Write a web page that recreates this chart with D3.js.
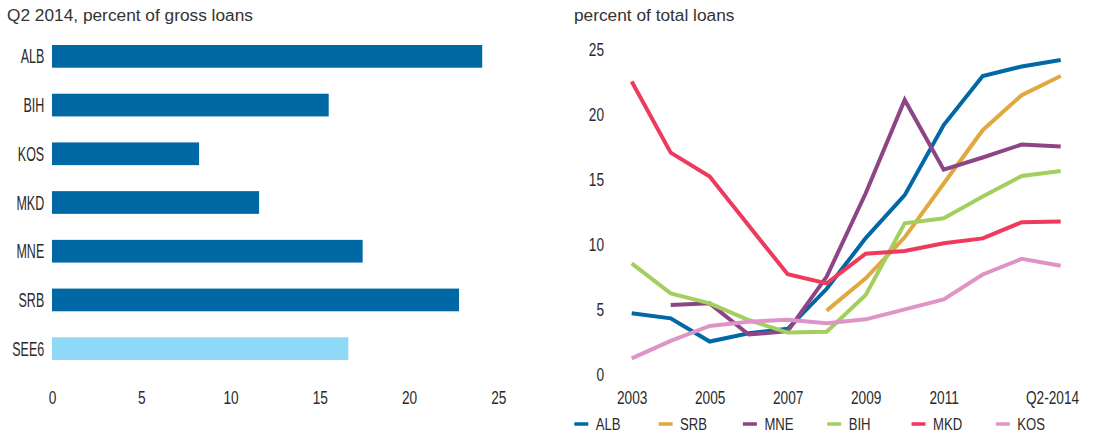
<!DOCTYPE html>
<html>
<head>
<meta charset="utf-8">
<script src="https://cdn.jsdelivr.net/npm/d3@7"></script>
<style>
  html, body { margin: 0; padding: 0; background: #ffffff; }
  svg { display: block; }
</style>
</head>
<body>
<svg id="chart" width="1095" height="436"></svg>
<script>
// ---------- Data ----------
const barCategories = ["ALB", "BIH", "KOS", "MKD", "MNE", "SRB", "SEE6"];
const barValues = [24.1, 15.5, 8.24, 11.6, 17.4, 22.8, 16.6];
const barTicks = [0, 5, 10, 15, 20, 25];

const years = ["2003", "2004", "2005", "2006", "2007", "2008", "2009", "2010", "2011", "2012", "2013", "Q2-2014"];
const yearTickLabels = ["2003", "2005", "2007", "2009", "2011", "Q2-2014"];
const lineTicks = [0, 5, 10, 15, 20, 25];

const ALB = [4.62, 4.23, 2.44, 3.08, 3.42, 6.5, 10.4, 13.7, 19.1, 22.87, 23.6, 24.1];
const SRB = [null, null, null, null, null, 4.82, 7.3, 10.46, 14.6, 18.7, 21.4, 22.87];
const MNE = [null, 5.26, 5.38, 2.98, 3.24, 7.44, 13.85, 21.03, 15.66, 16.6, 17.6, 17.44];
const BIH = [8.46, 6.15, 5.38, 4.1, 3.13, 3.2, 6.03, 11.54, 11.92, 13.6, 15.18, 15.56];
const MKD = [22.44, 16.97, 15.13, 11.36, 7.62, 6.92, 9.2, 9.41, 10.0, 10.38, 11.62, 11.67];
const KOS = [1.15, 2.49, 3.64, 3.97, 4.12, 3.85, 4.15, 4.92, 5.69, 7.6, 8.8, 8.28];

const seriesNames = ["ALB", "SRB", "MNE", "BIH", "MKD", "KOS"];
const seriesValues = [ALB, SRB, MNE, BIH, MKD, KOS];
const seriesColors = ["#0068a5", "#e0a83e", "#8e4585", "#a3cf5f", "#ee3a5c", "#de94c4"];

// ---------- Setup ----------
const svg = d3.select("#chart");
const sans = "'Liberation Sans', Arial, sans-serif";
const textColor = "#2b2b2b";

svg.append("rect").attr("width", 1095).attr("height", 436).attr("fill", "#fff");

// ---------- Left: bar chart ----------
svg.append("text")
  .attr("x", 7).attr("y", 20.5)
  .attr("font-family", sans).attr("font-size", 17.3)
  .attr("fill", "#333").text("Q2 2014, percent of gross loans");

const xBar = d3.scaleLinear().domain([0, 25]).range([52, 498.3]);
const yBar = d3.scaleBand().domain(barCategories).range([32, 373]).paddingInner(0.534).paddingOuter(0.267);

svg.append("g").selectAll("rect")
  .data(barCategories)
  .join("rect")
  .attr("x", xBar(0))
  .attr("y", d => yBar(d))
  .attr("width", (d, i) => xBar(barValues[i]) - xBar(0))
  .attr("height", yBar.bandwidth())
  .attr("fill", d => d === "SEE6" ? "#8fd8f6" : "#0068a5");

const gBarY = svg.append("g").attr("transform", `translate(${xBar(0)},0)`)
  .call(d3.axisLeft(yBar).tickSize(0).tickPadding(0));
gBarY.select(".domain").remove();
gBarY.selectAll("text")
  .attr("x", 0).attr("dy", "0.36em")
  .attr("font-family", sans).attr("font-size", 19.5).attr("fill", textColor)
  .attr("transform", "translate(-7.8,0) scale(0.64,1)");

const gBarX = svg.append("g").attr("transform", "translate(0,404)")
  .call(d3.axisBottom(xBar).tickValues(barTicks).tickSize(0).tickFormat(d3.format("d")));
gBarX.select(".domain").remove();
gBarX.selectAll("text")
  .attr("y", 0).attr("dy", 0)
  .attr("font-family", sans).attr("font-size", 19).attr("fill", textColor)
  .attr("transform", "scale(0.72,1)");

// ---------- Right: line chart ----------
svg.append("text")
  .attr("x", 574).attr("y", 20.5)
  .attr("font-family", sans).attr("font-size", 17.3)
  .attr("fill", "#333").text("percent of total loans");

const xLine = d3.scalePoint().domain(years).range([631.7, 1060.7]);
const yLine = d3.scaleLinear().domain([0, 25]).range([373.3, 48.3]);

const gLineY = svg.append("g").attr("transform", "translate(604,0)")
  .call(d3.axisLeft(yLine).tickValues(lineTicks).tickSize(0).tickPadding(0));
gLineY.select(".domain").remove();
gLineY.selectAll("text")
  .attr("x", 0).attr("dy", "0.36em")
  .attr("font-family", sans).attr("font-size", 19).attr("fill", textColor)
  .attr("transform", "scale(0.72,1)");

const gLineX = svg.append("g").attr("transform", "translate(0,403.5)")
  .call(d3.axisBottom(xLine).tickValues(yearTickLabels).tickSize(0));
gLineX.select(".domain").remove();
gLineX.selectAll("text")
  .attr("y", 0).attr("dy", 0)
  .attr("font-family", sans).attr("font-size", 19).attr("fill", textColor)
  .attr("transform", d => d === "Q2-2014" ? "translate(-8.7,0) scale(0.72,1)" : "scale(0.72,1)");

const line = d3.line()
  .defined(d => d != null)
  .x((d, i) => xLine(years[i]))
  .y(d => yLine(d));

svg.append("g").selectAll("path")
  .data(seriesValues)
  .join("path")
  .attr("d", d => line(d))
  .attr("fill", "none")
  .attr("stroke", (d, i) => seriesColors[i])
  .attr("stroke-width", 4)
  .attr("stroke-linejoin", "miter")
  .attr("stroke-linecap", "butt");

// ---------- Legend ----------
const legend = svg.append("g");
const items = legend.selectAll("g")
  .data(seriesNames)
  .join("g")
  .attr("transform", (d, i) => `translate(${574.3 + i * 84.3},424)`);
items.append("line")
  .attr("x1", 0).attr("x2", 14).attr("y1", 0).attr("y2", 0)
  .attr("stroke", (d, i) => seriesColors[i]).attr("stroke-width", 3.5);
items.append("text")
  .attr("x", 0).attr("y", 6)
  .attr("font-family", sans).attr("font-size", 16).attr("fill", textColor)
  .attr("transform", "translate(21.5,0) scale(0.82,1)")
  .text(d => d);
</script>
</body>
</html>
